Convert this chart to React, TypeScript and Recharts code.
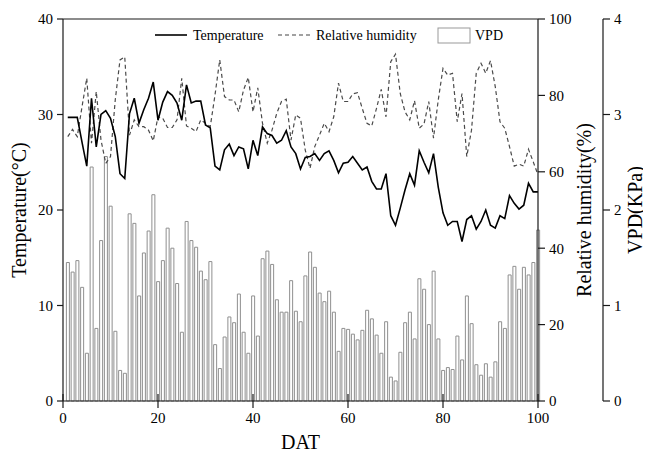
import React from "react"
import {
  ComposedChart,
  Bar,
  Line,
  XAxis,
  YAxis,
  ReferenceLine,
  Customized,
} from "recharts"

// day after transplanting
const days = Array.from({ length: 100 }, (_, i) => i + 1)

const temperature = [
  29.7, 29.7, 29.7, 27.1, 24.6, 31.7, 26.6, 30.0, 30.4, 29.6,
  27.7, 23.8, 23.3, 30.1, 31.7, 29.1, 30.5, 31.7, 33.4, 29.4,
  31.3, 32.4, 32.0, 31.2, 29.4, 33.1, 31.2, 31.4, 31.4, 28.9,
  28.6, 24.6, 24.2, 26.3, 26.9, 25.7, 26.6, 26.4, 24.3, 27.3,
  25.7, 28.7, 28.0, 27.8, 27.0, 27.3, 28.3, 26.6, 25.9, 24.3,
  25.5, 25.6, 25.9, 25.2, 25.9, 26.2, 25.2, 23.9, 24.9, 25.0,
  25.6, 24.9, 24.2, 24.5, 23.0, 22.2, 22.2, 23.8, 19.4, 18.4,
  20.2, 22.1, 23.8, 22.6, 26.2, 25.0, 23.9, 25.9, 22.4, 19.7,
  18.4, 18.8, 18.8, 16.7, 19.0, 19.4, 18.0, 18.8, 20.0, 18.4,
  18.1, 19.4, 19.1, 21.5, 20.7, 20.1, 20.5, 22.8, 21.9, 21.9,
]

const humidity = [
  69.2, 71.1, 69.2, 77.0, 84.5, 67.5, 81.0, 68.3, 62.2, 64.0,
  78.8, 89.3, 90.1, 69.6, 73.6, 71.8, 71.8, 70.9, 68.1, 74.4,
  74.0, 71.6, 71.6, 73.6, 84.5, 72.0, 71.4, 70.5, 73.6, 72.7,
  71.8, 80.1, 89.3, 79.7, 78.8, 78.8, 75.7, 81.4, 84.7, 75.7,
  82.0, 72.7, 67.5, 70.9, 75.3, 78.4, 79.0, 68.3, 74.9, 74.0,
  65.7, 60.9, 66.6, 69.6, 72.7, 70.5, 74.4, 83.2, 78.4, 78.4,
  80.4, 80.7, 76.6, 72.7, 72.0, 76.6, 81.6, 74.4, 88.8, 90.8,
  80.5, 75.7, 73.6, 78.6, 71.4, 72.5, 78.4, 68.8, 78.8, 87.1,
  85.3, 85.8, 73.1, 80.5, 64.0, 70.9, 85.8, 88.4, 85.8, 89.1,
  82.3, 73.1, 71.4, 66.6, 61.5, 62.0, 61.5, 65.9, 62.6, 59.2,
]

const vpd = [
  1.45, 1.35, 1.47, 1.19, 0.50, 2.45, 0.76, 1.68, 2.56, 2.04,
  0.73, 0.32, 0.29, 1.96, 1.86, 1.10, 1.55, 1.78, 2.16, 1.25,
  1.47, 1.81, 1.60, 1.23, 0.72, 1.88, 1.68, 1.61, 1.36, 1.27,
  1.46, 0.59, 0.34, 0.67, 0.88, 0.82, 1.12, 0.72, 0.50, 1.10,
  0.68, 1.49, 1.57, 1.43, 1.06, 0.93, 0.93, 1.26, 0.94, 0.83,
  1.31, 1.56, 1.40, 1.13, 1.04, 1.15, 0.93, 0.52, 0.76, 0.75,
  0.70, 0.64, 0.74, 0.95, 0.86, 0.69, 0.50, 0.83, 0.25, 0.21,
  0.51, 0.82, 0.93, 0.65, 1.28, 1.17, 0.80, 1.36, 0.65, 0.32,
  0.35, 0.33, 0.68, 0.43, 1.10, 0.81, 0.38, 0.27, 0.39, 0.25,
  0.41, 0.83, 0.76, 1.32, 1.41, 1.17, 1.40, 1.32, 1.45, 1.79,
]

const dayTicks = [0, 20, 40, 60, 80, 100]
const tempTicks = [0, 10, 20, 30, 40]
const rhTicks = [0, 20, 40, 60, 80, 100]
const vpdTicks = [0, 1, 2, 3, 4]

const data = days.map((day, i) => ({
  day,
  temp: temperature[i],
  rh: humidity[i],
  vpd: vpd[i],
}))

const FONT = "'Liberation Serif', 'Times New Roman', serif"
const AXIS = "#1a1a1a"
const tickStyle = { fill: "#000", fontSize: 15, fontFamily: FONT }
const titleStyle = { fill: "#000", fontSize: 20, fontFamily: FONT }

const X_TICK = 7
const X_MARGIN = 4

// bottom ticks cross the axis line, so draw the inner half here
function DayTick(props: any) {
  const { x, y, payload } = props
  const axisY = y - X_TICK - X_MARGIN
  return (
    <g>
      <line x1={x} x2={x} y1={axisY - 7} y2={axisY} stroke={AXIS} strokeWidth={1.2} />
      <text x={x} y={y} dy="0.75em" textAnchor="middle" {...tickStyle}>
        {payload.value}
      </text>
    </g>
  )
}

function LegendBlock() {
  return (
    <g fontFamily={FONT} fontSize={14} fill="#000">
      <line x1={155} x2={187} y1={35} y2={35} stroke="#000" strokeWidth={1.6} />
      <text x={193} y={35} dy="0.35em">Temperature</text>
      <line x1={278} x2={310} y1={35} y2={35} stroke="#444" strokeWidth={1.2} strokeDasharray="4 3" />
      <text x={316} y={35} dy="0.35em">Relative humidity</text>
      <rect x={438} y={28} width={32} height={15} fill="#fff" stroke="#999" strokeWidth={1} />
      <text x={475} y={35} dy="0.35em">VPD</text>
    </g>
  )
}

export default function App() {
  return (
    <div style={{ margin: -8, width: 651, height: 459, background: "#fff" }}>
      <ComposedChart
        width={651}
        height={459}
        data={data}
        margin={{ top: 19, right: 0, bottom: 0, left: 0 }}
      >
        <XAxis
          dataKey="day"
          type="number"
          domain={[0, 100]}
          ticks={dayTicks}
          height={58}
          stroke={AXIS}
          strokeWidth={1.2}
          tickSize={X_TICK}
          tickMargin={X_MARGIN}
          tick={<DayTick />}
          label={{ value: "DAT", position: "insideBottom", offset: 10, style: titleStyle }}
        />
        <YAxis
          yAxisId="t"
          orientation="left"
          width={63}
          domain={[0, 40]}
          ticks={tempTicks}
          stroke={AXIS}
          strokeWidth={1.2}
          tickSize={6}
          tickMargin={4}
          tick={tickStyle}
          label={{ value: "Temperature(\u00B0C)", angle: -90, position: "center", dx: -13, style: titleStyle }}
        />
        <YAxis
          yAxisId="rh"
          orientation="right"
          width={65}
          domain={[0, 100]}
          ticks={rhTicks}
          stroke={AXIS}
          strokeWidth={1.2}
          tickSize={7}
          tickMargin={4}
          tick={tickStyle}
          label={{ value: "Relative humidity(%)", angle: -90, position: "center", dx: 13, style: titleStyle }}
        />
        <YAxis
          yAxisId="vpd"
          orientation="right"
          width={48}
          domain={[0, 4]}
          ticks={vpdTicks}
          stroke={AXIS}
          strokeWidth={1.2}
          tickSize={7}
          tickMargin={4}
          tick={tickStyle}
          label={{ value: "VPD(KPa)", angle: -90, position: "center", dx: 8, style: titleStyle }}
        />
        <ReferenceLine yAxisId="t" y={40} stroke={AXIS} strokeWidth={1.2} />
        <Bar
          yAxisId="vpd"
          dataKey="vpd"
          barSize={3}
          fill="#fff"
          stroke="#8f8f8f"
          strokeWidth={1}
          isAnimationActive={false}
        />
        <Line
          yAxisId="rh"
          type="linear"
          dataKey="rh"
          stroke="#4a4a4a"
          strokeWidth={1.2}
          strokeDasharray="4 3"
          dot={false}
          isAnimationActive={false}
        />
        <Line
          yAxisId="t"
          type="linear"
          dataKey="temp"
          stroke="#000"
          strokeWidth={1.6}
          dot={false}
          isAnimationActive={false}
        />
        <Customized component={LegendBlock} />
      </ComposedChart>
    </div>
  )
}
